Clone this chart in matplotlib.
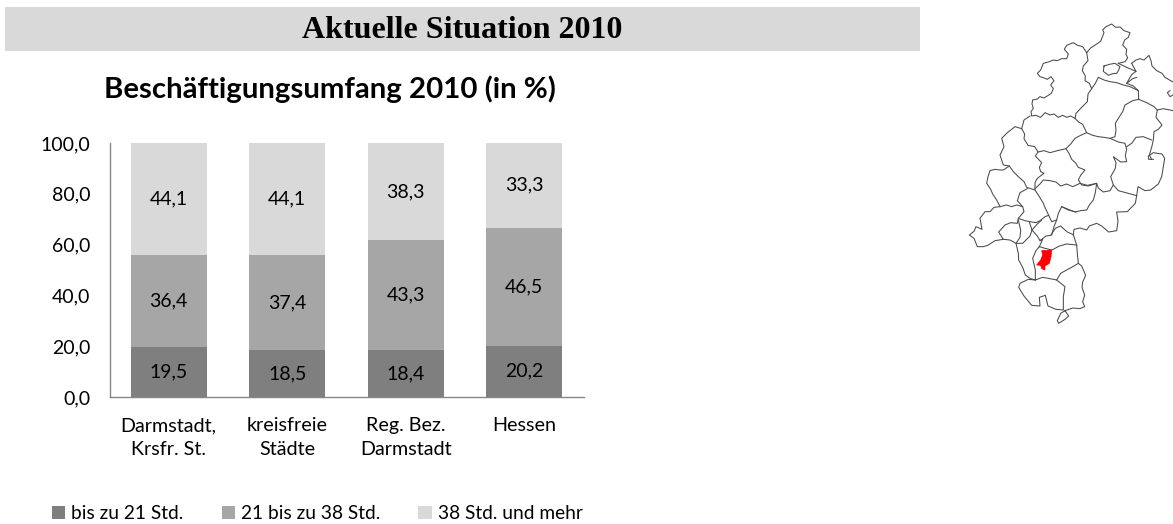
import matplotlib
matplotlib.use('Agg')
import matplotlib.pyplot as plt
import numpy as np

W, H = 1173, 524

categories = ['Darmstadt,\nKrsfr. St.', 'kreisfreie\nStädte', 'Reg. Bez.\nDarmstadt', 'Hessen']
series_names = ['bis zu 21 Std.', '21 bis zu 38 Std.', '38 Std. und mehr']
low = [19.5, 18.5, 18.4, 20.2]
mid = [36.4, 37.4, 43.3, 46.5]
high = [44.1, 44.1, 38.3, 33.3]
colors = ['#7f7f7f', '#a6a6a6', '#d9d9d9']
yticks = [0, 20, 40, 60, 80, 100]

# district borders of the locator map, in map units (3 units = 1 px)
borders = [
    [(375,265),(362,258),(350,262),(338,256),(325,262),(312,252),(300,255),(285,248),(272,262),(258,256),(245,258),(243,245),(250,235),(246,222),(248,210),(262,207),(270,200),(282,204),(295,196),(304,190),(310,176),(302,165),(312,152),(303,140),(292,148),(280,143),(270,140),(262,130),(272,120),(280,100),(295,96),(310,90),(322,92),(335,86),(350,86),(355,72),(343,58),(350,46),(370,38),(383,46),(398,50),(410,68)],
    [(410,68),(422,54),(440,42),(452,34),(462,8),(458,0),(468,-10),(485,-18),(497,-8),(510,-9),(522,2),(540,8),(535,22),(524,30),(518,45),(530,58),(528,72),(533,84),(525,95),(505,100)],
    [(410,68),(414,92),(400,108),(397,122),(406,138),(405,152),(418,160),(425,176),(414,192),(412,215),(395,232),(378,250),(375,265)],
    [(462,108),(478,103),(495,100),(510,110),(505,122),(500,130),(488,131),(475,136),(460,124),(462,108)],
    [(425,176),(436,160),(445,142),(462,150),(480,155),(500,158),(520,165),(540,170),(565,182),(566,208)],
    [(505,100),(530,112),(558,124),(545,134),(530,160),(548,146),(560,142)],
    [(545,100),(558,90),(570,86),(582,90),(597,76),(603,92),(606,108),(620,122),(636,130),(645,142),(669,156)],
    [(558,124),(545,100)],
    [(530,160),(550,168),(565,182)],
    [(566,208),(590,218),(612,230),(622,240),(640,236),(669,242)],
    [(660,182),(652,188),(660,200),(669,195)],
    [(566,208),(548,212),(525,225),(518,245),(505,265),(496,280),(498,300),(495,320),(480,325)],
    [(622,240),(618,262),(636,285),(625,298),(612,305),(610,330),(605,352),(598,375),(605,388)],
    [(240,258),(222,270),(215,296),(224,312),(222,326),(234,346),(254,350),(264,366),(282,362),(300,368),(322,362),(348,356)],
    [(375,265),(386,276),(398,283),(410,308),(392,316),(375,325),(362,342),(348,356),(358,372),(365,388),(376,398),(385,412),(405,420),(392,436),(385,450),(395,465),(415,468),(440,460),(445,474),(460,486),(480,482),(490,465)],
    [(410,308),(428,316),(445,320),(462,322),(480,325),(505,336),(525,340),(530,358),(526,376),(530,395),(512,396),(490,380),(498,398),(496,415),(482,440),(490,465),(505,482),(520,486),(542,492),(560,497),(564,470),(585,482),(602,480),(625,462),(635,440),(640,410),(644,385),(636,372),(610,368),(595,378),(596,388),(610,388)],
    [(530,350),(545,340),(558,322),(580,320),(605,330)],
    [(255,476),(270,462),(280,450),(300,452),(318,456),(332,468),(350,462),(368,470),(390,460),(412,466),(440,460),(436,488),(430,510),(418,525),(410,540),(392,542),(375,546),(355,538),(335,530),(325,550),(320,570),(305,575),(296,556),(284,530),(280,520),(268,500),(255,480)],
    [(264,366),(256,378),(275,398),(268,412),(272,425),(282,430),(262,445),(255,458),(255,476)],
    [(215,296),(195,290),(172,308),(155,325),(162,350),(150,375),(160,405),(178,408),(190,425),(205,440),(222,455),(230,472),(255,480)],
    [(178,408),(160,420),(150,420),(135,418),(120,422),(114,440),(110,460),(122,478),(128,492),(140,510),(150,530),(170,525),(185,530),(200,525),(218,530),(202,512),(210,488),(232,476)],
    [(218,530),(222,545),(205,565),(225,572),(240,575),(258,578),(270,572),(285,560),(296,556)],
    [(150,530),(132,532),(120,545),(105,545),(90,565),(96,598),(78,590),(72,604),(58,615),(72,625),(82,650),(100,650),(115,645),(135,632),(160,628),(146,606),(165,585),(182,578),(202,580),(205,565)],
    [(205,570),(212,600),(210,622),(198,640),(218,640),(240,618),(246,600),(238,576)],
    [(160,628),(180,630),(198,640),(205,670),(206,690),(218,712),(226,735),(240,745),(256,750)],
    [(246,600),(262,582),(275,570)],
    [(246,600),(262,618),(270,632),(288,618),(302,616),(316,595),(332,588),(345,600),(352,606),(370,614),(380,645)],
    [(335,530),(355,540),(378,546)],
    [(560,497),(556,520),(532,545),(500,546),(504,575),(500,602),(476,606),(455,588),(440,580),(418,588),(410,600),(390,594),(372,598),(370,615)],
    [(320,570),(312,590),(305,615)],
    [(270,632),(278,628),(268,650),(258,662),(248,685),(256,720),(256,750),(278,742),(300,746),(320,750),(332,730),(346,722),(365,712),(385,700),(382,670),(380,645),(350,642),(328,648),(306,660),(285,655),(268,650)],
    [(385,700),(395,708),(407,736),(398,756),(396,772),(404,795),(398,815),(404,830),(390,836),(368,834),(345,842)],
    [(256,750),(235,748),(210,760),(206,772),(222,798),(245,826),(270,828),(268,802),(286,796),(294,828),(318,838),(340,840),(340,800),(345,770),(320,750)],
    [(345,842),(356,858),(345,868),(326,880),(322,872),(332,850),(345,842)],
]
highlight = [(275,662),(305,660),(303,680),(298,700),(285,708),(285,720),(275,716),(272,706),(260,705),(272,690),(278,675)]

fig = plt.figure(figsize=(W / 100, H / 100), dpi=100)

# full-figure layer in pixels for the banner, title and map
bg = fig.add_axes([0, 0, 1, 1])
bg.set_xlim(0, W)
bg.set_ylim(H, 0)
bg.axis('off')
bg.add_patch(plt.Rectangle((5, 7), 915, 44, color='#d9d9d9', lw=0))
bg.text(462, 30, 'Aktuelle Situation 2010', family='Liberation Serif', weight='bold',
        fontsize=23, ha='center', va='center', color='black')
bg.text(330, 89, 'Beschäftigungsumfang 2010 (in %)', family='Lato', weight='bold',
        fontsize=21.2, ha='center', va='center', color='black')

for line in borders:
    xs = [950 + p[0] / 3 for p in line]
    ys = [30 + p[1] / 3 for p in line]
    bg.plot(xs, ys, color='#4a4a4a', lw=0.75)
bg.fill([950 + p[0] / 3 for p in highlight], [30 + p[1] / 3 for p in highlight],
        color='#ff0000', lw=0.5)

ax = fig.add_axes([109.5 / W, 1 - 397 / H, 474 / W, 254 / H])
ax.patch.set_alpha(0)
x = np.arange(len(categories))
bottom = np.zeros(len(categories))
for values, name, color in zip([low, mid, high], series_names, colors):
    bars = ax.bar(x, values, 0.645, bottom=bottom, color=color, label=name)
    ax.bar_label(bars, labels=[f'{v:.1f}'.replace('.', ',') for v in values],
                 label_type='center', family='Lato', fontsize=14, color='black')
    bottom += np.array(values)

ax.set_xlim(-0.5, 3.5)
ax.set_ylim(0, 100)
ax.set_yticks(yticks)
ax.set_yticklabels([f'{v:.1f}'.replace('.', ',') for v in yticks], family='Lato', fontsize=14)
ax.set_xticks(x)
ax.set_xticklabels(categories, family='Lato', fontsize=14.2, linespacing=1.5)
ax.tick_params(axis='y', length=0, pad=14)
ax.tick_params(axis='x', length=0, pad=14.5)
for side in ['top', 'right']:
    ax.spines[side].set_visible(False)
for side in ['left', 'bottom']:
    ax.spines[side].set_color('#868686')
    ax.spines[side].set_linewidth(1.0)

ax.legend(loc='lower left', bbox_to_anchor=(50 / W, 0), bbox_transform=fig.transFigure,
          ncol=3, frameon=False, prop={'family': 'Lato', 'size': 13.8},
          handlelength=0.7, handleheight=0.7, handletextpad=0.3, columnspacing=2.0,
          borderaxespad=0, borderpad=0.1)

fig.savefig('out.png', dpi=100)
